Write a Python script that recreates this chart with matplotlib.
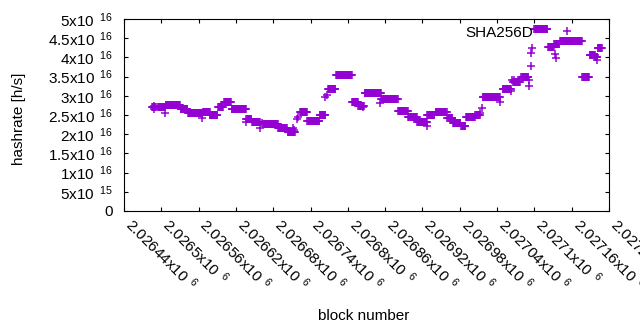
import matplotlib
matplotlib.use('Agg')
import matplotlib.pyplot as plt
import numpy as np

plt.rcParams['font.family'] = ['Liberation Sans', 'DejaVu Sans']
plt.rcParams['mathtext.fontset'] = 'custom'
plt.rcParams['mathtext.rm'] = 'Liberation Sans'
plt.rcParams['mathtext.it'] = 'Liberation Sans'
plt.rcParams['mathtext.default'] = 'regular'

# runs of blocks with the same hashrate estimate (value in units of 1e16 h/s)
seg_first = [2026485, 2026495, 2026507, 2026531, 2026543, 2026567, 2026578, 2026591,
             2026601, 2026613, 2026637, 2026646, 2026664, 2026688, 2026703, 2026723,
             2026735, 2026755, 2026768, 2026781, 2026807, 2026817, 2026827, 2026854,
             2026881, 2026897, 2026912, 2026928, 2026941, 2026960, 2026969, 2026982,
             2026990, 2027005, 2027017, 2027049, 2027066, 2027079, 2027100, 2027122,
             2027132, 2027141, 2027177, 2027189, 2027198, 2027202]
seg_last = [2026491, 2026506, 2026530, 2026542, 2026566, 2026578, 2026590, 2026599,
            2026612, 2026636, 2026645, 2026658, 2026687, 2026702, 2026715, 2026734,
            2026754, 2026764, 2026780, 2026806, 2026816, 2026826, 2026853, 2026880,
            2026896, 2026911, 2026927, 2026939, 2026959, 2026968, 2026981, 2026989,
            2027004, 2027012, 2027044, 2027062, 2027077, 2027090, 2027121, 2027131,
            2027140, 2027176, 2027188, 2027197, 2027201, 2027208]
seg_value = [2.70, 2.70, 2.75, 2.65, 2.545, 2.57, 2.49, 2.70,
             2.83, 2.65, 2.40, 2.31, 2.26, 2.15, 2.045, 2.575,
             2.34, 2.49, 3.17, 3.53, 2.83, 2.735, 3.085, 2.915,
             2.60, 2.44, 2.33, 2.51, 2.57, 2.42, 2.285, 2.205,
             2.44, 2.49, 2.965, 3.19, 3.37, 3.50, 4.73, 4.26,
             4.36, 4.42, 3.48, 4.07, 4.00, 4.245]

# single blocks off their run
out_block = [2026488, 2026489, 2026506, 2026565, 2026636, 2026658, 2026662, 2026711,
             2026714, 2026718, 2026720, 2026764, 2026766, 2026824, 2026851, 2026927,
             2027013, 2027015, 2027044, 2027063, 2027064, 2027067, 2027091, 2027092,
             2027094, 2027095, 2027096, 2027133, 2027134, 2027200]
out_value = [2.74, 2.66, 2.545, 2.415, 2.31, 2.16, 2.30, 2.16,
             2.10, 2.40, 2.45, 2.975, 3.02, 2.70, 2.80, 2.21,
             2.55, 2.68, 2.845, 3.12, 3.40, 3.41, 3.41, 3.25,
             3.78, 4.11, 4.24, 4.08, 3.99, 3.93]

x_ticks = [2026440 + 60 * k for k in range(14)]
y_ticks = [0, 5e15, 1e16, 1.5e16, 2e16, 2.5e16, 3e16, 3.5e16, 4e16, 4.5e16, 5e16]

blocks = []
rates = []
for a, b, v in zip(seg_first, seg_last, seg_value):
    for n in range(a, b + 1):
        blocks.append(n)
        rates.append(v * 1e16)
blocks += out_block
rates += [v * 1e16 for v in out_value]
order = np.argsort(blocks, kind='stable')
blocks = np.array(blocks)[order]
rates = np.array(rates)[order]


def sci(v):
    if v == 0:
        return '0'
    e = int(np.floor(np.log10(v)))
    m = v / 10 ** e
    return '%gx10$^{\\ \\ %d}$' % (round(m, 6), e)


fs = 11
fig = plt.figure(figsize=(6.4, 3.3), dpi=100)
ax = fig.add_axes([124 / 640, 1 - 211 / 330, 485 / 640, 192 / 330])

ax.plot(blocks, rates, linestyle='none', marker='+', markersize=5.4,
        markeredgewidth=1.1, color='#9400d3', label='SHA256D')

ax.set_xlim(2026440, 2027220)
ax.set_ylim(0, 5e16)
ax.set_xticks(x_ticks)
ax.set_xticklabels([sci(t) for t in x_ticks], rotation=-45, ha='left', va='baseline',
                   rotation_mode='anchor')
ax.set_yticks(y_ticks)
ax.set_yticklabels([sci(t) for t in y_ticks])
ax.tick_params(direction='in', length=3, width=0.8, top=True, right=True,
               labelsize=fs, colors='black')
ax.tick_params(axis='x', pad=11)
ax.tick_params(axis='y', pad=8)
for s in ax.spines.values():
    s.set_linewidth(0.8)

ax.set_xlabel('block number', fontsize=fs)
ax.set_ylabel('hashrate [h/s]', fontsize=fs)
ax.xaxis.set_label_coords(0.495, -0.51)
ax.yaxis.set_label_coords(-0.202, 0.479)

ax.legend(loc='upper right', bbox_to_anchor=(0.945, 0.965), frameon=False,
          markerfirst=False, numpoints=1, handlelength=2.0, handletextpad=1.2,
          borderpad=0, borderaxespad=0, fontsize=fs)

plt.savefig('out.png', dpi=100)
plt.close()
